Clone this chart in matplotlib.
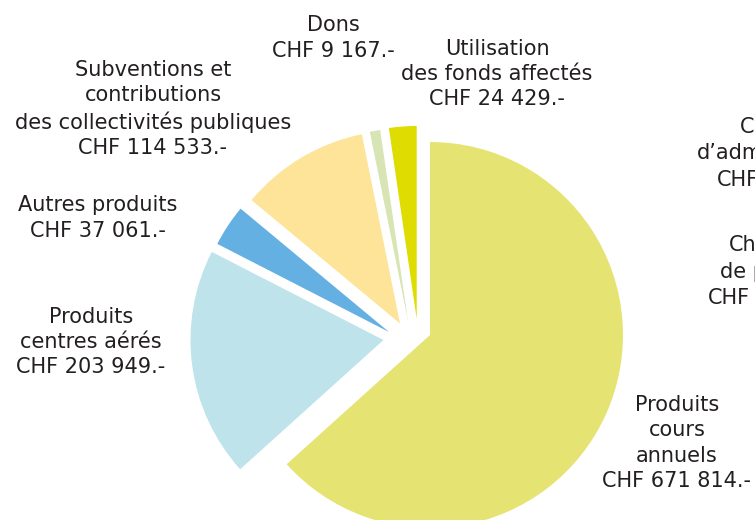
import numpy as np
import matplotlib
matplotlib.use("Agg")
import matplotlib.pyplot as plt

# produits (CHF)
labels = ["Produits\ncours\nannuels\nCHF 671 814.-",
          "Produits\ncentres aérés\nCHF 203 949.-",
          "Autres produits\nCHF 37 061.-",
          "Subventions et\ncontributions\ndes collectivités publiques\nCHF 114 533.-",
          "Dons\nCHF 9 167.-",
          "Utilisation\ndes fonds affectés\nCHF 24 429.-"]
values = [671814, 203949, 37061, 114533, 9167, 24429]
colors = ["#e5e473", "#bee3eb", "#65b0e2", "#fde498", "#d7e5b4", "#dedc00"]

W, H = 755, 520
center = (408, H - 328)
radius = 193
# hand-placed offsets of each slice (px, y down) - like an explode
shifts = [(22, 7), (-24.5, 12), (-19, 4), (-8, -4.5), (0, -7), (8.7, -9)]
# label centres (px, y down)
label_pos = [(677, 443), (91, 342), (98, 218), (153, 109), (333, 38), (497, 74)]

plt.rcParams['font.family'] = ['DejaVu Sans']

fig = plt.figure(figsize=(W / 100, H / 100), dpi=100)
ax = fig.add_axes([0, 0, 1, 1])

wedges, _ = ax.pie(values, colors=colors, startangle=90, counterclock=False,
                   radius=radius, center=center, frame=True,
                   wedgeprops=dict(linewidth=0))
for w, (dx, dy) in zip(wedges, shifts):
    w.set_center((center[0] + dx, center[1] - dy))

for lab, (x, y) in zip(labels, label_pos):
    ax.text(x, H - y, lab, ha='center', va='center', fontsize=15,
            linespacing=1.33, color='#231f20')

# labels of the neighbouring chart, cut by the page edge
side = [("Charges", 740, 127), ("d\u2019administration", 697, 153), ("CHF", 717, 180),
        ("Charges", 729, 245), ("de personnel", 720, 272), ("CHF", 708, 298)]
for t, x, y in side:
    ax.text(x, H - y, t, ha='left', va='center', fontsize=15, color='#231f20')

ax.set_xlim(0, W)
ax.set_ylim(0, H)
ax.set_aspect('equal')
ax.axis('off')

plt.savefig("out.png", dpi=100)
